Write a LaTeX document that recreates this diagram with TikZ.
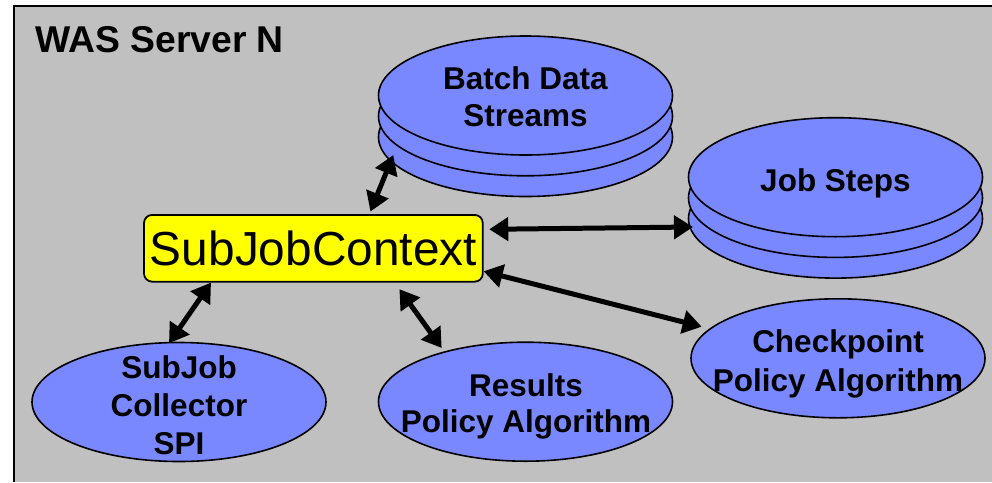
\documentclass[tikz,border=0pt]{standalone}
\usepackage{fontspec}
\setmainfont{Liberation Sans}
\usetikzlibrary{shapes.geometric,arrows.meta,calc}
\definecolor{discblue}{RGB}{122,136,255}
\definecolor{servergray}{RGB}{192,192,192}
\definecolor{ctxyellow}{RGB}{255,255,0}
\begin{document}
\begin{tikzpicture}[x=1pt,y=-1pt,
  disc/.style={ellipse, draw=black, line width=1.6pt, fill=discblue,
    minimum width=294pt, minimum height=119pt, inner sep=0pt},
  lbl/.style={font=\bfseries\fontsize{31.5}{37.5}\selectfont, align=center, inner sep=0pt},
  link/.style={line width=5pt, {Triangle[length=19pt,width=23pt]}-{Triangle[length=19pt,width=23pt]}},
  ctx/.style={draw=black, line width=1.8pt, fill=ctxyellow, rounded corners=8pt,
    minimum width=338.7pt, minimum height=66.7pt, inner sep=0pt,
    font=\fontsize{47.8}{56}\selectfont}
]
\useasboundingbox (0,0) rectangle (992,482);
\fill[white] (0,0) rectangle (992,482);

% server frame
\fill[servergray] (14,6) rectangle (992,482);
\draw[line width=2pt] (14,482) -- (14,6) -- (992,6);
\node[anchor=base west, inner sep=0pt, font=\bfseries\fontsize{37.3}{44}\selectfont] (title) at (35,52) {WAS Server N};

% Batch Data Streams stack
\node[disc] (bds3) at (525.5,137) {};
\node[disc] (bds2) at (525.5,116.3) {};
\node[disc] (bds1) at (525.5,95.5) {};
\node[lbl] (bdsT) at (525.5,96.6) {Batch Data\\Streams};

% Job Steps stack
\node[disc] (js3) at (835.5,218.6) {};
\node[disc] (js2) at (835.5,197.9) {};
\node[disc] (js1) at (835.5,177.2) {};
\node[lbl] (jsT) at (835.5,183.2) {Job Steps};

% algorithm and collector discs
\node[disc] (cpa) at (838,358.3) {};
\node[lbl] (cpaT) at (838,364) {Checkpoint\\[0.8pt]Policy Algorithm};
\node[disc] (rpa) at (525.5,401.7) {};
\node[lbl] (rpaT) at (526,406.5) {Results\\[-0.8pt]Policy Algorithm};
\node[disc] (col) at (179,402) {};
\node[lbl] (colT) at (179,405) {SubJob\\[0.5pt]Collector\\[0.5pt]SPI};

% central context
\node[ctx] (sjc) at (313.4,248.3) {SubJobContext};

% connectors
\draw[link] ($(sjc.north)+(57,-2.5)$) -- ($(bds3.center)+(-132.2,18)$);
\draw[link] ($(sjc.east)+(5.6,-19)$) -- ($(js3.center)+(-142.5,8.4)$);
\draw[link] ($(sjc.east)+(0,23)$) -- ($(cpa.center)+(-136.3,-31.6)$);
\draw[link] ($(sjc.south)+(86,6.6)$) -- ($(rpa.center)+(-83.8,-53.7)$);
\draw[link] ($(sjc.south)+(-102.4,0)$) -- ($(col.center)+(-10,-58.7)$);
\end{tikzpicture}
\end{document}
